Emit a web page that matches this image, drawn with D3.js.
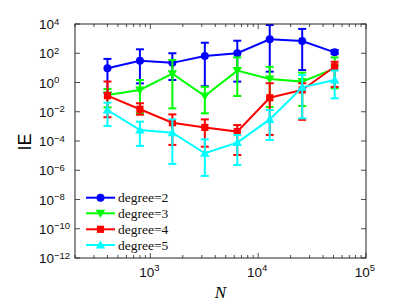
<!DOCTYPE html>
<html><head><meta charset="utf-8">
<script src="https://cdn.jsdelivr.net/npm/d3@7"></script>
<style>body{margin:0;background:#fff}</style>
</head><body>
<svg id="c" width="415" height="305"></svg>
<script>
const N = [400, 800, 1600, 3200, 6400, 12800, 25600, 51200];
const seriesNames = ["degree=2", "degree=3", "degree=4", "degree=5"];
const mean2 = [9.3, 31, 22, 65, 100, 890, 690, 115];
const hi2   = [41, 186, 100, 525, 720, 8500, 4600, 166];
const lo2   = [0.2, 0.87, 1.48, 0.56, 1.15, 5.5, 7.1, 89];
const mean3 = [0.14, 0.31, 4.0, 0.12, 6.5, 1.74, 1.15, 9.3];
const hi3   = [0.36, 1.48, 35, 0.51, 52, 11.7, 4.7, 52];
const lo3   = [0.02, 0.0079, 0.017, 0.0078, 0.12, 0.021, 0.025, 0.4];
const mean4 = [0.126, 0.0148, 0.00178, 8.5e-4, 4.4e-4, 0.091, 0.31, 12];
const hi4   = [1.17, 0.038, 0.0066, 0.003, 0.00123, 0.89, 0.89, 26];
const lo4   = [0.0042, 0.0063, 5.4e-5, 4.1e-5, 1.1e-5, 2.6e-4, 0.0028, 0.5];
const mean5 = [0.0132, 5.6e-4, 3.7e-4, 1.45e-5, 7.8e-5, 0.003, 0.47, 1.48];
const hi5   = [0.042, 0.0021, 0.003, 1.3e-4, 2.6e-4, 0.0132, 3.2, 6.5];
const lo5   = [0.00107, 4.6e-5, 2.7e-6, 4.1e-7, 2.3e-6, 1.17e-4, 0.0035, 0.083];
const xTickExp = [3, 4, 5];
const yTickExp = [4, 2, 0, -2, -4, -6, -8, -10, -12];

const colors = ["#0000ff", "#00ff00", "#ff0000", "#00ffff"];
const markers = ["circle", "down", "square", "up"];
const series = [
  {name: seriesNames[0], m: mean2, hi: hi2, lo: lo2},
  {name: seriesNames[1], m: mean3, hi: hi3, lo: lo3},
  {name: seriesNames[2], m: mean4, hi: hi4, lo: lo4},
  {name: seriesNames[3], m: mean5, hi: hi5, lo: lo5}
];

const L = 75, R = 366, T = 24, B = 258;
const x = d3.scaleLog().domain([200, 1e5]).range([L, R]);
const y = d3.scaleLog().domain([1e-12, 1e4]).range([B, T]);
const svg = d3.select("#c");
const axisColor = "#222";

// ticks
const g = svg.append("g");
const minorX = [];
for (let e = 2; e <= 4; e++) for (let k = 1; k <= 9; k++) { const v = k * Math.pow(10, e); if (v >= 200 && v <= 1e5) minorX.push(v); }
minorX.push(1e5);
minorX.forEach(v => {
  const isMajor = Math.abs(Math.log10(v) - Math.round(Math.log10(v))) < 1e-9;
  const len = isMajor ? 5 : 3;
  g.append("line").attr("x1", x(v)).attr("x2", x(v)).attr("y1", B).attr("y2", B - len).attr("stroke", axisColor).attr("stroke-width", 0.8);
  g.append("line").attr("x1", x(v)).attr("x2", x(v)).attr("y1", T).attr("y2", T + len).attr("stroke", axisColor).attr("stroke-width", 0.8);
});
yTickExp.forEach(e => {
  const v = Math.pow(10, e);
  g.append("line").attr("x1", L).attr("x2", L + 5).attr("y1", y(v)).attr("y2", y(v)).attr("stroke", axisColor).attr("stroke-width", 0.8);
  g.append("line").attr("x1", R).attr("x2", R - 5).attr("y1", y(v)).attr("y2", y(v)).attr("stroke", axisColor).attr("stroke-width", 0.8);
});

// tick labels
yTickExp.forEach(e => {
  const t = svg.append("text").attr("x", 39).attr("y", y(Math.pow(10, e)) + 5)
    .attr("font-family", "Liberation Sans, Arial, sans-serif").attr("font-size", 13.5).attr("fill", "#111");
  t.append("tspan").text("10");
  t.append("tspan").attr("dy", -4.5).attr("font-size", 9.5).text(e < 0 ? "\u2212" + (-e) : String(e));
});
xTickExp.forEach(e => {
  const t = svg.append("text").attr("x", x(Math.pow(10, e)) - 1).attr("y", 276.5).attr("text-anchor", "middle")
    .attr("font-family", "Liberation Sans, Arial, sans-serif").attr("font-size", 13.5).attr("fill", "#111");
  t.append("tspan").text("10");
  t.append("tspan").attr("dy", -5.5).attr("font-size", 9.5).text(String(e));
});

// axis titles
svg.append("text").attr("x", (L + R) / 2).attr("y", 297.5).attr("text-anchor", "middle")
  .attr("font-family", "Liberation Serif, Times New Roman, serif").attr("font-style", "italic").attr("font-size", 17).text("N");
svg.append("text").attr("transform", `translate(31,${(T + B) / 2 + 1}) rotate(-90)`).attr("text-anchor", "middle")
  .attr("font-family", "Liberation Sans, Arial, sans-serif").attr("font-size", 18).text("IE");

// marker drawing
function drawMarker(sel, type, cx, cy, color) {
  if (type === "circle") sel.append("circle").attr("cx", cx).attr("cy", cy).attr("r", 4).attr("fill", color);
  else if (type === "square") sel.append("rect").attr("x", cx - 3.6).attr("y", cy - 3.6).attr("width", 7.2).attr("height", 7.2).attr("fill", color);
  else {
    const s = 4.7, dir = type === "up" ? 1 : -1;
    const pts = [[cx, cy - dir * s], [cx - s, cy + dir * s * 0.75], [cx + s, cy + dir * s * 0.75]];
    sel.append("path").attr("d", "M" + pts.map(p => p.join(",")).join("L") + "Z").attr("fill", color);
  }
}

const plot = svg.append("g");
const line = d3.line().x(d => x(d[0])).y(d => y(d[1]));
series.forEach((s, i) => {
  const c = colors[i];
  const sg = plot.append("g");
  N.forEach((n, j) => {
    const cx = x(n);
    sg.append("line").attr("x1", cx).attr("x2", cx).attr("y1", y(s.lo[j])).attr("y2", y(s.hi[j])).attr("stroke", c).attr("stroke-width", 2);
    [s.lo[j], s.hi[j]].forEach(v => {
      sg.append("line").attr("x1", cx - 4).attr("x2", cx + 4).attr("y1", y(v)).attr("y2", y(v)).attr("stroke", c).attr("stroke-width", 2);
    });
  });
  sg.append("path").datum(N.map((n, j) => [n, s.m[j]])).attr("d", line).attr("fill", "none").attr("stroke", c).attr("stroke-width", 2);
  N.forEach((n, j) => drawMarker(sg, markers[i], x(n), y(s.m[j]), c));
});

// box
svg.append("rect").attr("x", L).attr("y", T).attr("width", R - L).attr("height", B - T)
  .attr("fill", "none").attr("stroke", axisColor).attr("stroke-width", 1);

// legend
const legY = [197.7, 213.3, 229.3, 245];
series.forEach((s, i) => {
  const lg = svg.append("g");
  lg.append("line").attr("x1", 86).attr("x2", 115).attr("y1", legY[i]).attr("y2", legY[i]).attr("stroke", colors[i]).attr("stroke-width", 2);
  drawMarker(lg, markers[i], 100.5, legY[i], colors[i]);
  lg.append("text").attr("x", 118).attr("y", legY[i] + 4.5)
    .attr("font-family", "Liberation Serif, Times New Roman, serif").attr("font-size", 13.5).attr("fill", "#111").text(s.name);
});
</script>
</body></html>
